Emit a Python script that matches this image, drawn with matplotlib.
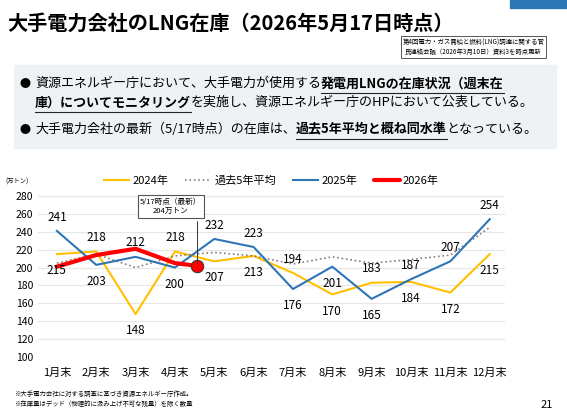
import matplotlib
matplotlib.use("Agg")
import matplotlib.pyplot as plt
from matplotlib.patches import Rectangle

plt.rcParams['font.family'] = ['Noto Sans CJK JP', 'DejaVu Sans']

months = ['1月末','2月末','3月末','4月末','5月末','6月末','7月末','8月末','9月末','10月末','11月末','12月末']
y2024 = [215,218,148,218,207,213,194,170,183,184,172,215]
avg5 = [205,215,200,213,217,213,204,212,205,209,214,245]
y2025 = [241,203,212,200,232,223,176,201,165,187,207,254]
x2026 = [0,1,2,3,3.55]
y2026 = [201,214,221,205,202]
latest_label = '5/17時点（最新）\n204万トン'

fig = plt.figure(figsize=(5.67,4.18), dpi=100)
fig.patch.set_facecolor('white')
renderer = fig.canvas.get_renderer()

fig.add_artist(Rectangle((0.9,0.982),0.1,0.018,transform=fig.transFigure,color='#2e75b6'))
fig.add_artist(Rectangle((0.025,0.645),0.955,0.2,transform=fig.transFigure,color='#eef2f5',zorder=0))
fig.text(0.012,0.945,'大手電力会社のLNG在庫（2026年5月17日時点）',fontsize=14.5,fontweight='bold',va='center')
fig.text(0.835,0.887,'第4回電力・ガス需給と燃料(LNG)調達に関する官\n民連絡会議（2026年3月10日）資料3を時点更新',
         fontsize=4.6,ha='center',va='center',linespacing=1.3,
         bbox=dict(boxstyle='square,pad=0.3',fc='white',ec='#555555',lw=0.7))

def chain(x0,y,parts):
    x = x0
    for txt,bold in parts:
        t = fig.text(x,y,txt,fontsize=9.4,va='center',fontweight='bold' if bold else 'normal')
        bb = t.get_window_extent(renderer).transformed(fig.transFigure.inverted())
        if bold:
            fig.add_artist(plt.Line2D([bb.x0,bb.x1],[y-0.022,y-0.022],transform=fig.transFigure,color='#222',lw=0.8))
        x = bb.x1

fig.text(0.035,0.8,'●',fontsize=8,va='center')
chain(0.062,0.8,[('資源エネルギー庁において、大手電力が使用する',False),('発電用LNGの在庫状況（週末在',True)])
chain(0.062,0.755,[('庫）についてモニタリング',True),('を実施し、資源エネルギー庁のHPにおいて公表している。',False)])
fig.text(0.035,0.69,'●',fontsize=8,va='center')
chain(0.062,0.69,[('大手電力会社の最新（5/17時点）の在庫は、',False),('過去5年平均と概ね同水準',True),('となっている。',False)])

ax = fig.add_axes([0.067,0.146,0.823,0.385])
x = list(range(12))
ax.plot(x,y2024,color='#ffc000',lw=1.5,label='2024年')
ax.plot(x,avg5,color='#8c7b70',lw=1.2,ls=':',label='過去5年平均')
ax.plot(x,y2025,color='#2e75b6',lw=1.5,label='2025年')
ax.plot(x2026,y2026,color='#ff0000',lw=3,label='2026年',solid_capstyle='round')
ax.plot([x2026[-1]],[y2026[-1]],'o',ms=9,mfc='#ff0000',mec='#333',mew=0.7)

ax.set_xlim(-0.48,11.38)
ax.set_ylim(100,280)
ax.set_yticks(range(100,281,20))
ax.set_xticks(x)
ax.set_xticklabels(months,fontsize=8)
ax.tick_params(axis='y',labelsize=7.5,length=0)
ax.tick_params(axis='x',length=0,pad=8)
ax.grid(axis='y',color='#e6e6e6',lw=0.8)
ax.set_axisbelow(True)
for s in ax.spines.values(): s.set_visible(False)

def lab(i,v,dy):
    ax.annotate(str(v),(i,v),xytext=(0,dy),textcoords='offset points',ha='center',va='center',fontsize=8.5,clip_on=False)
for i in range(12):
    a,b = y2024[i], y2025[i]
    if i == 0:
        lab(i,b,10); lab(i,a,-12)
    elif i == 7:
        lab(i,b,-12); lab(i,a,-12)
    elif a>=b:
        lab(i,a,10); lab(i,b,-12)
    else:
        lab(i,b,10); lab(i,a,-12)

ax.annotate(latest_label,(x2026[-1],y2026[-1]),xytext=(x2026[-1]-0.65,268),textcoords='data',
            ha='center',va='center',fontsize=5.5,
            bbox=dict(boxstyle='square,pad=0.35',fc='white',ec='#555',lw=0.8),
            arrowprops=dict(arrowstyle='-',color='#333',lw=0.7,
                            connectionstyle='angle,angleA=0,angleB=90'))
ax.text(-0.02,1.08,'(万トン)',transform=ax.transAxes,fontsize=4.5,ha='right')
ax.legend(loc='lower center',bbox_to_anchor=(0.5,1.0),ncol=4,frameon=False,fontsize=8,
          handlelength=2.3,columnspacing=1.5,handletextpad=0.3)

fig.text(0.025,0.045,'※大手電力会社に対する調査に基づき資源エネルギー庁作成。\n※在庫量はデッド（物理的に汲み上げ不可な残量）を除く数量',
         fontsize=4.6,va='center',linespacing=1.4)
fig.text(0.975,0.03,'21',fontsize=8,ha='right',va='center')
fig.savefig('out.png',dpi=100)
